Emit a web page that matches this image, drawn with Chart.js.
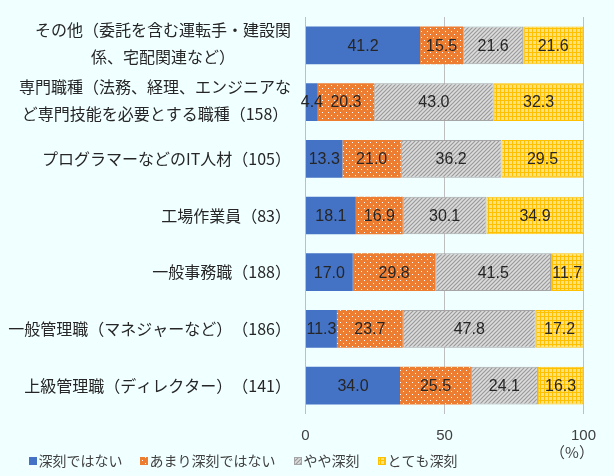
<!DOCTYPE html>
<html>
<head>
<meta charset="utf-8">
<script src="https://cdn.jsdelivr.net/npm/chart.js@4"></script>
<style>
  html, body { margin: 0; padding: 0; background: #F0FFFF; }
  #wrap { width: 614px; height: 476px; position: relative; }
</style>
</head>
<body>
<div id="wrap"><canvas id="chart"></canvas></div>
<script>
// categories (top to bottom)
const categories = [
    ['その他（委託を含む運転手・建設関', '係、宅配関連など）'],
    ['専門職種（法務、経理、エンジニアな', 'ど専門技能を必要とする職種（158）'],
    'プログラマーなどのIT人材（105）',
    '工場作業員（83）',
    '一般事務職（188）',
    '一般管理職（マネジャーなど）（186）',
    '上級管理職（ディレクター）（141）'
];
const seriesNames = ['深刻ではない', 'あまり深刻ではない', 'やや深刻', 'とても深刻'];
const notSerious      = [41.2, 4.4, 13.3, 18.1, 17.0, 11.3, 34.0];
const notVerySerious  = [15.5, 20.3, 21.0, 16.9, 29.8, 23.7, 25.5];
const somewhatSerious = [21.6, 43.0, 36.2, 30.1, 41.5, 47.8, 24.1];
const verySerious     = [21.6, 32.3, 29.5, 34.9, 11.7, 17.2, 16.3];
const xTicks = [0, 50, 100];

const JP = '"Noto Sans CJK JP", "Noto Sans", sans-serif';
const NUM = '"Liberation Sans", Arial, sans-serif';

// small tile patterns like the office fills
function makeTile(size, draw) {
    const c = document.createElement('canvas');
    c.width = size; c.height = size;
    draw(c.getContext('2d'), size);
    return c.getContext('2d').createPattern(c, 'repeat');
}
const dotFill = makeTile(6, (g, s) => {
    g.fillStyle = '#ED7D31'; g.fillRect(0, 0, s, s);
    g.fillStyle = '#FFFFFF';
    g.fillRect(1, 1, 1, 1);
    g.fillRect(4, 4, 1, 1);
});
const stripeFill = makeTile(4, (g, s) => {
    g.fillStyle = '#DCDCDC'; g.fillRect(0, 0, s, s);
    g.strokeStyle = '#9A9A9A'; g.lineWidth = 1.2;
    g.beginPath();
    g.moveTo(0, s); g.lineTo(s, 0);
    g.moveTo(-1, 1); g.lineTo(1, -1);
    g.moveTo(s - 1, s + 1); g.lineTo(s + 1, s - 1);
    g.stroke();
});
const gridFill = makeTile(4, (g, s) => {
    g.fillStyle = '#FFE080'; g.fillRect(0, 0, s, s);
    g.fillStyle = '#FFC000';
    g.fillRect(0, 0, s, 1);
    g.fillRect(0, 0, 1, s);
});

// draw text piece by piece so "）（" keeps its full width
function textParts(t) { return t.split(/(?<=）)(?=（)/); }
function textWidth(ctx, t) {
    return textParts(t).reduce((w, p) => w + ctx.measureText(p).width, 0);
}
function drawText(ctx, t, left, y) {
    ctx.textAlign = 'left';
    let x = left;
    textParts(t).forEach(p => { ctx.fillText(p, x, y); x += ctx.measureText(p).width; });
}

// value labels in the middle of each segment
const segmentLabels = {
    id: 'segmentLabels',
    afterDatasetsDraw(chart) {
        const ctx = chart.ctx;
        ctx.save();
        ctx.font = '16px ' + NUM;
        ctx.fillStyle = '#262626';
        ctx.textAlign = 'center';
        ctx.textBaseline = 'middle';
        chart.data.datasets.forEach((ds, i) => {
            chart.getDatasetMeta(i).data.forEach((bar, j) => {
                const x = (bar.x + bar.base) / 2;
                ctx.fillText(ds.data[j].toFixed(1), x, bar.y + 1);
            });
        });
        ctx.restore();
    }
};

// category labels, unit and legend
const legendX = [29, 140, 294, 378];
const extras = {
    id: 'extras',
    afterDraw(chart) {
        const ctx = chart.ctx;
        const y = chart.scales.y;
        const right = 291;
        const lh = 27;
        ctx.save();
        ctx.font = '16px ' + JP;
        ctx.fillStyle = '#262626';
        ctx.textBaseline = 'middle';
        categories.forEach((lab, i) => {
            const cy = y.getPixelForValue(i);
            if (Array.isArray(lab)) {
                const w = Math.max(...lab.map(t => textWidth(ctx, t)));
                const cx = right - w / 2;
                lab.forEach((t, k) => {
                    drawText(ctx, t, cx - textWidth(ctx, t) / 2, cy - 1.5 + (k - (lab.length - 1) / 2) * lh);
                });
            } else {
                drawText(ctx, lab, right - textWidth(ctx, lab), cy);
            }
        });

        // unit under the 100 tick
        ctx.font = '15px ' + JP;
        ctx.textAlign = 'center';
        ctx.fillStyle = '#404040';
        ctx.fillText('（%）', 572, 452);

        // legend
        ctx.font = '14px ' + JP;
        const ly = 461;
        chart.data.datasets.forEach((ds, i) => {
            const x = legendX[i];
            ctx.fillStyle = ds.backgroundColor;
            ctx.fillRect(x, ly - 4, 8, 8);
            if (ds.borderWidth) {
                ctx.strokeStyle = ds.borderColor;
                ctx.lineWidth = 1;
                ctx.strokeRect(x + 0.5, ly - 3.5, 7, 7);
            }
            ctx.fillStyle = '#404040';
            ctx.textAlign = 'left';
            ctx.fillText(ds.label, x + 9.5, ly);
        });
        ctx.restore();
    }
};

new Chart(document.getElementById('chart'), {
    type: 'bar',
    data: {
        labels: categories,
        datasets: [
            { label: seriesNames[0], data: notSerious, backgroundColor: '#4472C4', borderWidth: 0 },
            { label: seriesNames[1], data: notVerySerious, backgroundColor: dotFill, borderWidth: 0 },
            { label: seriesNames[2], data: somewhatSerious, backgroundColor: stripeFill, borderColor: '#A5A5A5', borderWidth: 1 },
            { label: seriesNames[3], data: verySerious, backgroundColor: gridFill, borderColor: '#FFC000', borderWidth: 1 }
        ]
    },
    options: {
        indexAxis: 'y',
        responsive: true,
        maintainAspectRatio: false,
        animation: false,
        layout: { padding: { top: 17, left: 12, right: 30.5, bottom: 18 } },
        datasets: { bar: { categoryPercentage: 1, barPercentage: 0.665, borderSkipped: false } },
        scales: {
            x: {
                stacked: true,
                min: 0,
                max: 100,
                afterBuildTicks: s => { s.ticks = xTicks.map(v => ({ value: v })); },
                ticks: { color: '#404040', font: { size: 15, family: NUM }, padding: 13 },
                grid: { color: '#BFBFBF', lineWidth: 1, drawTicks: false },
                border: { display: false }
            },
            y: {
                stacked: true,
                ticks: { display: false },
                grid: { display: false },
                border: { display: false },
                afterFit: s => { s.width = 293.5; }
            }
        },
        plugins: {
            legend: { display: false },
            tooltip: { enabled: false }
        }
    },
    plugins: [segmentLabels, extras]
});
</script>
</body>
</html>
